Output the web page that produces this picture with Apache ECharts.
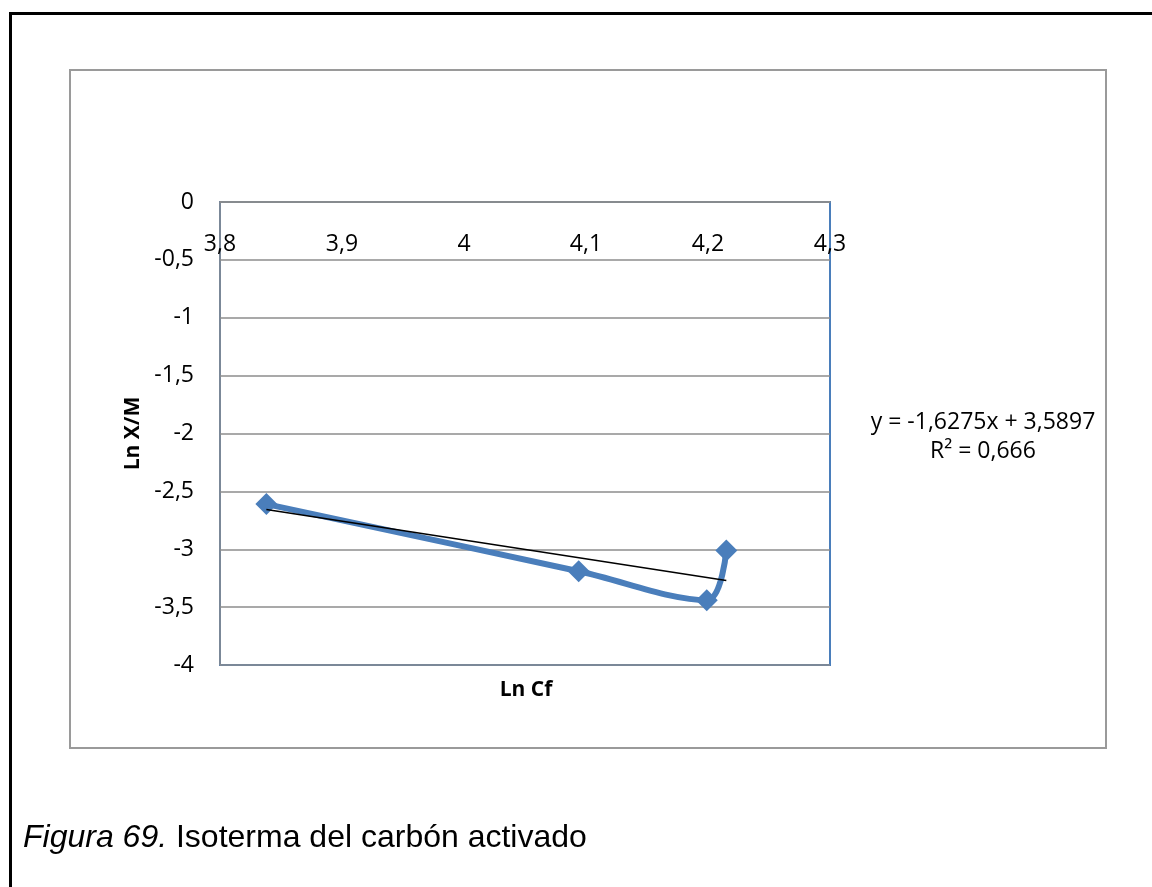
<!DOCTYPE html>
<html>
<head>
<meta charset="utf-8">
<script src="https://cdn.jsdelivr.net/npm/echarts@6/dist/echarts.min.js"></script>
<style>
  html, body { margin: 0; padding: 0; background: #fff; }
  #chart { width: 1152px; height: 887px; }
</style>
</head>
<body>
<div id="chart"></div>
<script>
// Ln Cf against Ln X/M for the activated-carbon isotherm
const lnCf = [3.838, 4.094, 4.199, 4.215];
const lnXM = [-2.61, -3.19, -3.44, -3.01];

// Linear trendline reported on the chart
const trendSlope = -1.6275;
const trendIntercept = 3.5897;
const trendLabel = ['y = -1,6275x + 3,5897', 'R² = 0,666'];

const xTicks = { min: 3.8, max: 4.3, step: 0.1 };
const yTicks = { min: -4, max: 0, step: 0.5 };

const axisTitleX = 'Ln Cf';
const axisTitleY = 'Ln X/M';
const captionItalic = 'Figura 69.';
const captionText = ' Isoterma del carbón activado';

const points = lnCf.map((x, i) => [x, lnXM[i]]);
const xLo = Math.min(...lnCf), xHi = Math.max(...lnCf);
const trendPoints = [xLo, xHi].map(x => [x, trendSlope * x + trendIntercept]);

const comma = v => String(Math.round(v * 10) / 10).replace('.', ',');
const uiFont = '"Open Sans", "Noto Sans", sans-serif';

const grid = { left: 220, top: 202, width: 610, height: 463 };

const chart = echarts.init(document.getElementById('chart'), null, { renderer: 'canvas' });
chart.setOption({
  animation: false,
  backgroundColor: '#ffffff',
  grid: grid,
  xAxis: {
    type: 'value',
    position: 'top',
    min: xTicks.min, max: xTicks.max, interval: xTicks.step,
    axisLine: { show: true, onZero: false, lineStyle: { color: '#8c8c8c', width: 1.5 } },
    axisTick: { show: false },
    splitLine: { show: false },
    axisLabel: {
      inside: true, margin: 31,
      color: '#000', fontSize: 23, fontFamily: uiFont,
      formatter: comma
    }
  },
  yAxis: {
    type: 'value',
    min: yTicks.min, max: yTicks.max, interval: yTicks.step,
    axisLine: { show: true, onZero: false, lineStyle: { color: '#8c8c8c', width: 1.5 } },
    axisTick: { show: false },
    splitLine: { show: true, lineStyle: { color: '#8c8c8c', width: 1.5 } },
    axisLabel: {
      margin: 26, color: '#000', fontSize: 23, fontFamily: uiFont,
      formatter: v => String(v).replace('.', ',')
    },
    name: axisTitleY,
    nameLocation: 'middle',
    nameGap: 74,
    nameRotate: 90,
    nameTextStyle: { color: '#000', fontSize: 21, fontWeight: 'bold', fontFamily: uiFont }
  },
  series: [
    {
      type: 'line',
      data: points,
      smooth: 0.35,
      symbol: 'diamond',
      symbolSize: 22,
      lineStyle: { color: '#4a7ebb', width: 6 },
      itemStyle: { color: '#4a7ebb' },
      z: 3
    },
    {
      type: 'line',
      data: trendPoints,
      symbol: 'none',
      lineStyle: { color: '#000', width: 1.5 },
      z: 4
    }
  ],
  graphic: [
    // page frame
    { type: 'line', shape: { x1: 10.5, y1: 13.5, x2: 10.5, y2: 887 }, style: { stroke: '#000', lineWidth: 3 }, z: 0 },
    { type: 'line', shape: { x1: 9, y1: 13.5, x2: 1152, y2: 13.5 }, style: { stroke: '#000', lineWidth: 3 }, z: 0 },
    // chart area border
    { type: 'rect', shape: { x: 70, y: 70, width: 1036, height: 678 }, style: { fill: null, stroke: '#9a9a9a', lineWidth: 2 }, z: 0 },
    // plot area border
    { type: 'rect', shape: { x: grid.left, y: grid.top, width: grid.width, height: grid.height }, style: { fill: null, stroke: '#4a7ebb', lineWidth: 2 }, z: 0 },
    {
      type: 'text', x: 526, y: 690,
      style: { text: axisTitleX, align: 'center', verticalAlign: 'middle', fill: '#000', font: 'bold 21px ' + uiFont },
      z: 10
    },
    {
      type: 'text', x: 983, y: 437,
      style: { text: trendLabel.join('\n'), align: 'center', verticalAlign: 'middle', lineHeight: 29, fill: '#000', font: '23px ' + uiFont },
      z: 10
    },
    {
      type: 'text', x: 23, y: 838,
      style: {
        text: '{i|' + captionItalic + '}{n|' + captionText + '}',
        verticalAlign: 'middle',
        rich: {
          i: { fontStyle: 'italic', fontSize: 32, fontFamily: '"Liberation Sans", Arial, sans-serif', fill: '#000' },
          n: { fontSize: 32, fontFamily: '"Liberation Sans", Arial, sans-serif', fill: '#000' }
        }
      },
      z: 10
    }
  ]
});
</script>
</body>
</html>
